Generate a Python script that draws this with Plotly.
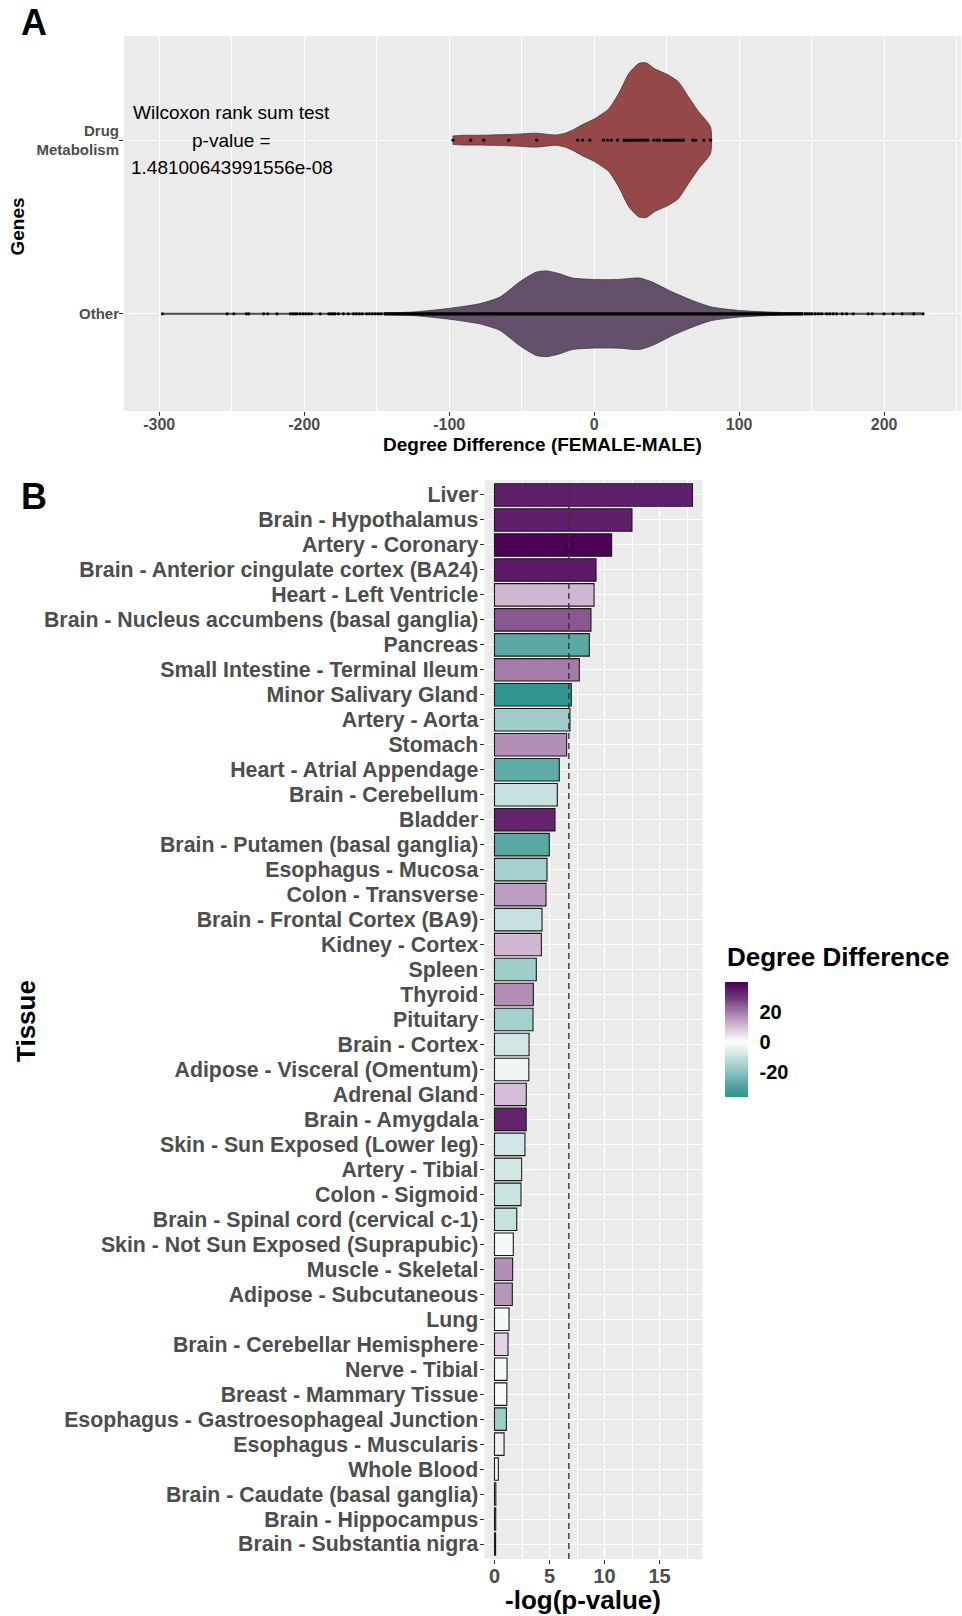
import plotly.graph_objects as go

# ---------------- Panel A data ----------------
genes_categories = ["Other", "Drug<br>Metabolism"]
drug_x = [-97.7, -90, -80, -70, -60, -50, -40, -32, -26, -20, -14, -8, 0, 10, 17, 24, 31, 36, 42, 51, 58, 65, 72, 80.2]
drug_half = [0.024, 0.028, 0.028, 0.03, 0.032, 0.036, 0.04, 0.033, 0.03, 0.04, 0.062, 0.09, 0.122, 0.18, 0.27, 0.385, 0.443, 0.445, 0.41, 0.376, 0.337, 0.25, 0.164, 0.077]
other_x = [-298, -250, -200, -150, -125, -102, -79, -65, -51.5, -40, -33, -24, -15, 1, 17, 31, 40, 54, 67.6, 81, 100, 127, 160, 200, 227]
other_half = [0.003, 0.003, 0.003, 0.004, 0.01, 0.029, 0.058, 0.096, 0.183, 0.24, 0.247, 0.231, 0.206, 0.197, 0.198, 0.206, 0.183, 0.125, 0.077, 0.039, 0.019, 0.008, 0.004, 0.003, 0.003]
drug_points = [-97.4, -85.2, -76.1, -58.9, -39.6, -11.4, -8.0, -3.0, 6.4, 9.2, 11.9, 16.0, 20.6, 22.0, 23.5, 25.0,
               26.5, 28.0, 29.5, 31.0, 32.5, 34.0, 35.5, 37.0, 41.2, 43.5, 45.1, 48.0, 49.5, 51.0, 52.5, 54.0,
               55.5, 57.0, 58.5, 60.0, 61.5, 68.0, 69.9, 75.6, 80.2]
other_points = [-297.8, -253.1, -248.6, -239.9, -238.3, -228.0, -225.2, -218.8, -209.6, -208.0, -206.5, -205.0,
                -203.0, -201.0, -199.0, -197.0, -195.0, -189.0, -183.0, -181.5, -180.0, -178.7, -176.4, -173.0,
                -169.6, -166.0, -164.0, -162.0, -160.0, -157.0, -155.0, -153.0, -151.0, -149.0, -147.0,
                145.5, 147.0, 148.5, 150.0, 152.4, 154.6, 156.9, 160.3, 162.5, 164.8, 167.2, 171.1, 174.1,
                178.7, 189.0, 191.8, 199.8, 206.2, 212.4, 220.4, 226.8]
other_dense_range = [-145, 144]
a_xticks = [-300, -200, -100, 0, 100, 200]
a_xticklabels = ["-300", "-200", "-100", "0", "100", "200"]
wilcoxon_lines = ["Wilcoxon rank sum test", "p-value =", "1.48100643991556e-08"]

# ---------------- Panel B data ----------------
tissues = ["Liver", "Brain - Hypothalamus", "Artery - Coronary", "Brain - Anterior cingulate cortex (BA24)",
           "Heart - Left Ventricle", "Brain - Nucleus accumbens (basal ganglia)", "Pancreas",
           "Small Intestine - Terminal Ileum", "Minor Salivary Gland", "Artery - Aorta", "Stomach",
           "Heart - Atrial Appendage", "Brain - Cerebellum", "Bladder", "Brain - Putamen (basal ganglia)",
           "Esophagus - Mucosa", "Colon - Transverse", "Brain - Frontal Cortex (BA9)", "Kidney - Cortex",
           "Spleen", "Thyroid", "Pituitary", "Brain - Cortex", "Adipose - Visceral (Omentum)", "Adrenal Gland",
           "Brain - Amygdala", "Skin - Sun Exposed (Lower leg)", "Artery - Tibial", "Colon - Sigmoid",
           "Brain - Spinal cord (cervical c-1)", "Skin - Not Sun Exposed (Suprapubic)", "Muscle - Skeletal",
           "Adipose - Subcutaneous", "Lung", "Brain - Cerebellar Hemisphere", "Nerve - Tibial",
           "Breast - Mammary Tissue", "Esophagus - Gastroesophageal Junction", "Esophagus - Muscularis",
           "Whole Blood", "Brain - Caudate (basal ganglia)", "Brain - Hippocampus", "Brain - Substantia nigra"]
neg_log_p = [18.0, 12.5, 10.65, 9.23, 9.05, 8.77, 8.62, 7.71, 6.98, 6.86, 6.56, 5.89, 5.71, 5.5, 4.98, 4.77,
             4.68, 4.32, 4.26, 3.8, 3.53, 3.5, 3.14, 3.12, 2.89, 2.88, 2.77, 2.47, 2.41, 2.02, 1.71, 1.65,
             1.62, 1.32, 1.23, 1.14, 1.12, 1.08, 0.87, 0.35, 0.12, 0.11, 0.1]
degree_diff = [34, 34, 40, 35, 11, 25, -28, 20, -36, -17, 17, -27, -10, 33, -28, -16, 15, -10, 11, -17, 17, -16,
               -8, -3, 10, 33, -8, -8, -9, -10, -2, 17, 16, -2, 7, -2, 1, -17, 3, 2, 0, 0, 0]
threshold = 6.76
b_xticks = [0, 5, 10, 15]
cbar_ticks = [-20, 0, 20]
cbar_ticklabels = ["-20", "0", "20"]
cmin, cmax = -36.7, 40

FONT = "Liberation Sans, Arial, sans-serif"
GRAY = "#4D4D4D"
W, H = 962, 1616

def px_x(p):
    return p / W

def px_y(p):
    return (H - p) / H

fig = go.Figure()

# violins (outline built from the density profiles)
for xs, hs, center, color in [(other_x, other_half, 1, "#64506B"), (drug_x, drug_half, 2, "#964848")]:
    px = list(xs) + list(xs[::-1])
    py = [center + h for h in hs] + [center - h for h in hs[::-1]]
    fig.add_trace(go.Scatter(x=px, y=py, mode="lines", fill="toself", fillcolor=color,
                             line=dict(color="#3a3a3a", width=0.8, shape="spline", smoothing=0.6),
                             xaxis="x", yaxis="y", hoverinfo="skip", showlegend=False))

# dense band of points for "Other"
fig.add_trace(go.Scatter(x=other_dense_range, y=[1, 1], mode="lines", line=dict(color="black", width=3.2),
                         xaxis="x", yaxis="y", showlegend=False, hoverinfo="skip"))
fig.add_trace(go.Scatter(x=other_points, y=[1] * len(other_points), mode="markers",
                         marker=dict(color="black", size=3.2), xaxis="x", yaxis="y", showlegend=False))
fig.add_trace(go.Scatter(x=drug_points, y=[2] * len(drug_points), mode="markers",
                         marker=dict(color="black", size=3.2), xaxis="x", yaxis="y", showlegend=False))

# Panel B bars
def pos(v):
    return (v - cmin) / (cmax - cmin)

colorscale = [
    [0.0, "#2E958F"],
    [pos(-30), "#4DA19C"],
    [pos(-20), "#8DC4C1"],
    [pos(-10), "#C6E1DF"],
    [pos(0), "#FFFFFF"],
    [pos(10), "#D5BFD8"],
    [pos(20), "#A47BA9"],
    [pos(30), "#6E3479"],
    [1.0, "#4B0055"],
]
fig.add_trace(go.Bar(
    x=neg_log_p, y=tissues, orientation="h", width=0.9, xaxis="x2", yaxis="y2",
    marker=dict(color=degree_diff, colorscale=colorscale, cmin=cmin, cmax=cmax,
                line=dict(color="#1A1A1A", width=1.1),
                colorbar=dict(x=px_x(725), xanchor="left", y=px_y(1039.5), yanchor="middle",
                              thickness=23, len=115, lenmode="pixels", xpad=0, ypad=0,
                              outlinewidth=0, tickvals=cbar_ticks, ticktext=cbar_ticklabels,
                              ticks="outside", ticklen=8, tickcolor="rgba(0,0,0,0)", tickwidth=1,
                              tickfont=dict(family=FONT, size=20, color="black", weight="bold"))),
    showlegend=False))

grid = dict(showgrid=True, gridcolor="white", gridwidth=1.2, zeroline=False, ticks="outside",
            ticklen=4, tickcolor="#333333", tickwidth=1, showline=False)

fig.update_layout(
    width=W, height=H, margin=dict(l=0, r=0, t=0, b=0),
    paper_bgcolor="white", plot_bgcolor="#EBEBEB",
    font=dict(family=FONT),
    xaxis=dict(domain=[px_x(124), px_x(961)], range=[-324.3, 253], anchor="y",
               tickvals=a_xticks, ticktext=a_xticklabels, ticklabelstandoff=-5,
               minor=dict(tickvals=[-250, -150, -50, 50, 150, 250], showgrid=True, gridcolor="white",
                          gridwidth=0.6, ticks=""),
               tickfont=dict(family=FONT, size=16, color=GRAY, weight="bold"), **grid),
    yaxis=dict(domain=[px_y(411), px_y(36)], range=[0.44, 2.6], anchor="x",
               tickvals=[1, 2], ticktext=genes_categories, ticklabelstandoff=-3,
               tickfont=dict(family=FONT, size=15, color=GRAY, weight="bold"), **grid),
    xaxis2=dict(domain=[px_x(484.6), px_x(702.4)], range=[-0.9, 18.9], anchor="y2",
                tickvals=b_xticks, ticklabelstandoff=-5,
                minor=dict(tickvals=[2.5, 7.5, 12.5, 17.5], showgrid=True, gridcolor="white",
                           gridwidth=0.6, ticks=""),
                tickfont=dict(family=FONT, size=20, color=GRAY, weight="bold"), **grid),
    yaxis2=dict(domain=[px_y(1559), px_y(480)], type="category", categoryorder="array",
                categoryarray=tissues, tickmode="array", tickvals=tissues, ticktext=tissues,
                range=[len(tissues) - 0.4, -0.6], anchor="x2", ticklabelstandoff=-3,
                tickfont=dict(family=FONT, size=21.3, color=GRAY, weight="bold"), **grid),
    shapes=[dict(type="line", xref="x2", yref="y2 domain", x0=threshold, x1=threshold, y0=0, y1=1,
                 line=dict(color="#333333", width=1.4, dash="6px,4px"))],
)

ann = []
for i, t in enumerate(wilcoxon_lines):
    ann.append(dict(x=-250, y=2 + 0.159 * (1 - i), xref="x", yref="y", text=t, showarrow=False,
                    font=dict(family=FONT, size=19, color="black"), xanchor="center", yanchor="middle"))
extra = [
    dict(x=px_x(34), y=px_y(23), text="<b>A</b>", font=dict(family=FONT, size=36, color="black")),
    dict(x=px_x(34), y=px_y(496), text="<b>B</b>", font=dict(family=FONT, size=36, color="black")),
    dict(x=px_x(17.5), y=px_y(227), text="<b>Genes</b>", textangle=-90,
         font=dict(family=FONT, size=19, color="black")),
    dict(x=px_x(542.5), y=px_y(445), text="<b>Degree Difference (FEMALE-MALE)</b>",
         font=dict(family=FONT, size=19, color="black")),
    dict(x=px_x(26), y=px_y(1021), text="<b>Tissue</b>", textangle=-90,
         font=dict(family=FONT, size=26, color="black")),
    dict(x=px_x(583), y=px_y(1600), text="<b>-log(p-value)</b>",
         font=dict(family=FONT, size=26, color="black")),
]
for a in extra:
    a.update(xref="paper", yref="paper", showarrow=False, xanchor="center", yanchor="middle")
ann += extra
ann.append(dict(x=px_x(725), y=px_y(957), xref="paper", yref="paper", showarrow=False,
                text="<b>Degree Difference</b>", xanchor="left", yanchor="middle",
                font=dict(family=FONT, size=26, color="black")))
fig.update_layout(annotations=ann)

fig.write_html("out.html", config={"displayModeBar": False},
               post_script="document.body.style.margin='0';document.body.style.overflow='hidden';")
